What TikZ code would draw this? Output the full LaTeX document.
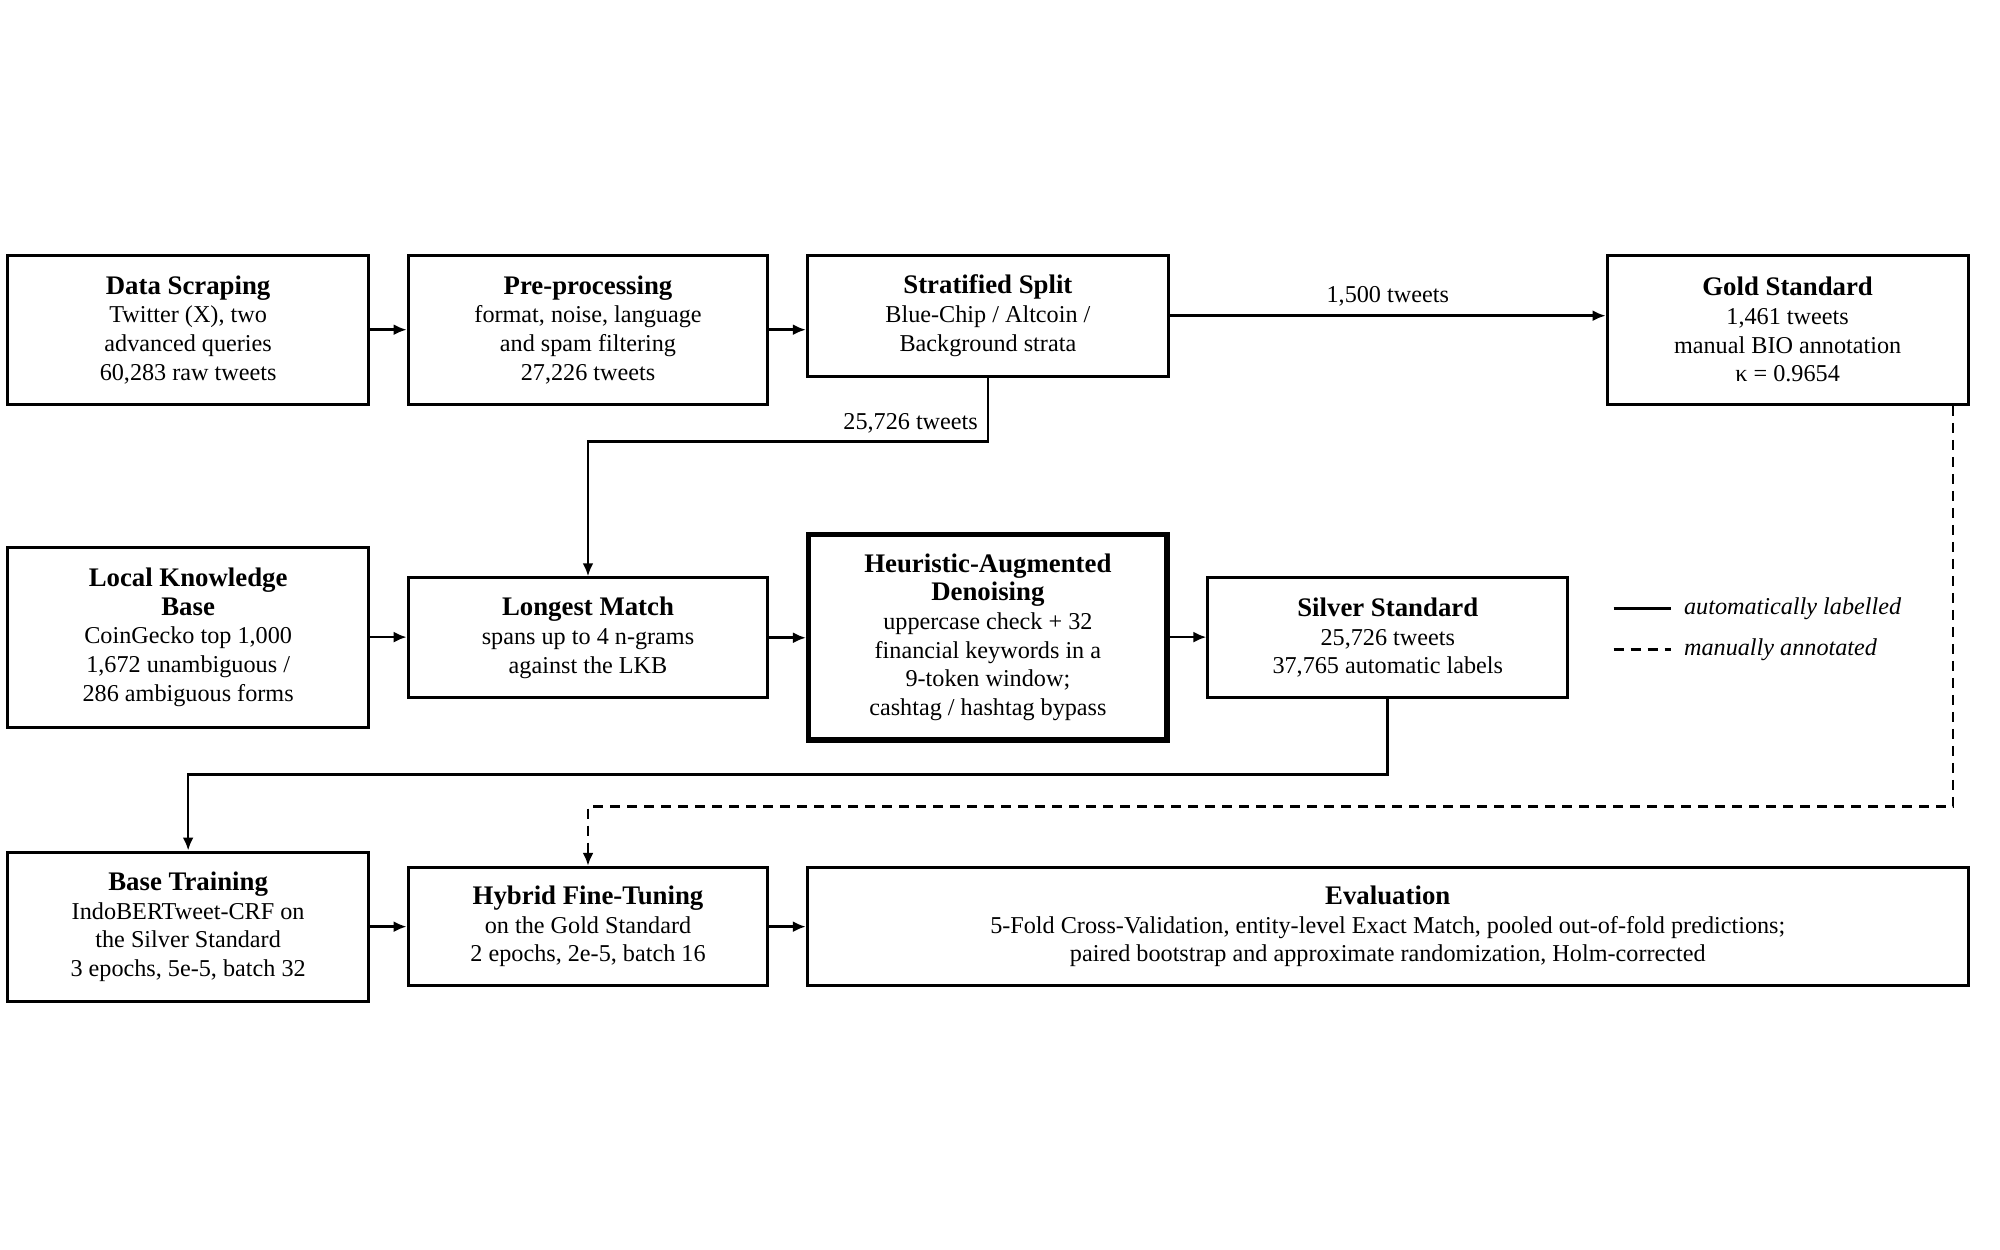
\documentclass[tikz,border=0pt]{standalone}
\usepackage{fontspec}
\setmainfont{Liberation Serif}
\usetikzlibrary{arrows.meta,calc}
\begin{document}
\def\u{0.6378pt}
\tikzset{
  box/.style={draw, line width=1.5pt, align=center, inner sep=2pt,
    font=\fontsize{12.1}{14.3}\selectfont},
  thickbox/.style={box, line width=2.7pt},
  conn/.style={line width=1.3pt, -{Latex[length=6.5pt,width=5.5pt]}},
  plain/.style={line width=1.3pt},
  man/.style={line width=1.3pt, dash pattern=on 5pt off 3.5pt},
  lbl/.style={font=\fontsize{12.1}{14.3}\selectfont, inner sep=1pt},
  legend/.style={font=\fontsize{12.1}{14.3}\selectfont\itshape, inner sep=0pt, anchor=west}
}
\newcommand{\ttl}[1]{{\fontsize{13.4}{14.8}\selectfont\bfseries #1}}
\begin{tikzpicture}[x=\u, y=-\u]
\useasboundingbox (0,0) rectangle (1568,980);
% Row 1
\node[box, minimum width=283*\u, minimum height=117*\u] (ds) at (147.5,258.5)
  {\ttl{Data Scraping}\\Twitter (X), two\\advanced queries\\60,283 raw tweets};
\node[box, minimum width=282*\u, minimum height=117*\u] (pp) at (461,258.5)
  {\ttl{Pre-processing}\\format, noise, language\\and spam filtering\\27,226 tweets};
\node[box, minimum width=283*\u, minimum height=95*\u] (ss) at (774.5,247.5)
  {\ttl{Stratified Split}\\Blue-Chip / Altcoin /\\Background strata};
\node[box, minimum width=283*\u, minimum height=117*\u] (gs) at (1401.5,258.5)
  {\ttl{Gold Standard}\\1,461 tweets\\manual BIO annotation\\κ = 0.9654};
% Row 2
\node[box, minimum width=283*\u, minimum height=141*\u] (lkb) at (147.5,499.5)
  {\ttl{Local Knowledge}\\\ttl{Base}\\CoinGecko top 1,000\\1,672 unambiguous /\\286 ambiguous forms};
\node[box, minimum width=282*\u, minimum height=94*\u] (lm) at (461,500)
  {\ttl{Longest Match}\\spans up to 4 n-grams\\against the LKB};
\node[thickbox, minimum width=281*\u, minimum height=161*\u] (had) at (774.5,499.5)
  {\ttl{Heuristic-Augmented}\\\ttl{Denoising}\\uppercase check + 32\\financial keywords in a\\9-token window;\\cashtag / hashtag bypass};
\node[box, minimum width=282*\u, minimum height=94*\u] (sil) at (1088,500)
  {\ttl{Silver Standard}\\25,726 tweets\\37,765 automatic labels};
% Row 3
\node[box, minimum width=283*\u, minimum height=117*\u] (bt) at (147.5,726.5)
  {\ttl{Base Training}\\IndoBERTweet-CRF on\\the Silver Standard\\3 epochs, 5e-5, batch 32};
\node[box, minimum width=282*\u, minimum height=93*\u] (hft) at (461,726.5)
  {\ttl{Hybrid Fine-Tuning}\\on the Gold Standard\\2 epochs, 2e-5, batch 16};
\node[box, minimum width=910*\u, minimum height=93*\u] (ev) at (1088,726.5)
  {\ttl{Evaluation}\\5-Fold Cross-Validation, entity-level Exact Match, pooled out-of-fold predictions;\\paired bootstrap and approximate randomization, Holm-corrected};
% Connectors row 1
\draw[conn] (ds.east) -- (pp.west);
\draw[conn] (pp.east) -- (pp.east -| ss.west);
\draw[conn] (ss.east) -- node[lbl, above=3pt] (l1500) {1,500 tweets} (ss.east -| gs.west);
\coordinate (c1) at ($(ss.south)+(0,50)$);
\draw[conn] (ss.south) -- (c1) -- (c1 -| lm.north) -- (lm.north);
\node[lbl, anchor=south east] (l25726) at ($(c1)+(-6,-5)$) {25,726 tweets};
% Row 2
\draw[conn] (lkb.east) -- (lkb.east -| lm.west);
\draw[conn] (lm.east) -- (lm.east -| had.west);
\draw[conn] (had.east) -- (had.east -| sil.west);
\coordinate (c2) at ($(sil.south)+(0,59)$);
\draw[conn] (sil.south) -- (c2) -- (c2 -| bt.north) -- (bt.north);
% Gold dashed
\coordinate (g0) at ($(gs.south east)+(-13,0)$);
\coordinate (g1) at ($(g0)+(0,314)$);
\draw[man, -{Latex[length=6.5pt,width=5.5pt]}] (g0) -- (g1) -- (g1 -| hft.north) -- (hft.north);
% Row 3
\draw[conn] (bt.east) -- (bt.east -| hft.west);
\draw[conn] (hft.east) -- (ev.west);
% Legend
\coordinate (la) at (1265,477);
\coordinate (lb) at (1310,477);
\draw[plain] (la) -- (lb);
\node[legend] (lt1) at (1320,477) {automatically labelled};
\coordinate (lc) at (1265,509);
\coordinate (ld) at (1310,509);
\draw[man] (lc) -- (ld);
\node[legend] (lt2) at (1320,509) {manually annotated};
\end{tikzpicture}
\end{document}
